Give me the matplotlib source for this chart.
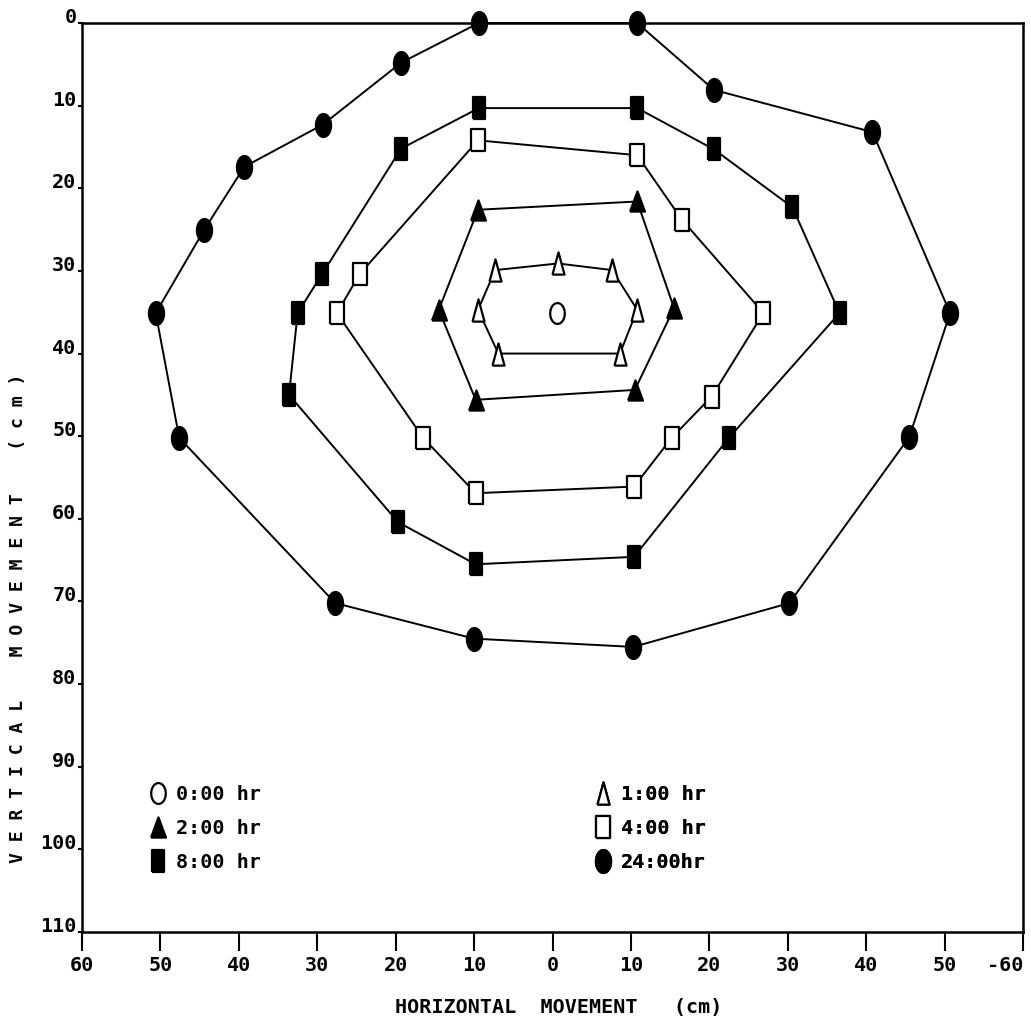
import numpy as np
import matplotlib

matplotlib.use("Agg")

import matplotlib.pyplot as plt
from matplotlib.lines import Line2D

plt.rcParams["font.family"] = ["DejaVu Sans Mono"]
plt.rcParams["font.weight"] = "bold"

# 各时刻的轮廓点 (水平位移 cm, 垂直位移 cm)
X_0H = [0.6]
Y_0H = [35.1]

X_1H = [-7.3, 0.7, 7.6, 10.8, 8.6, -6.9, -9.5]
Y_1H = [29.9, 29.1, 29.9, 34.7, 40.0, 40.0, 34.7]

X_2H = [-9.5, 10.8, 15.5, 10.5, -9.8, -14.5]
Y_2H = [22.6, 21.6, 34.5, 44.4, 45.6, 34.7]

X_4H = [-9.5, 10.8, 16.5, 26.9, 20.3, 15.2, 10.4, -9.8, -16.5, -27.5, -24.6]
Y_4H = [14.2, 16.0, 23.8, 35.1, 45.2, 50.2, 56.1, 56.9, 50.2, 35.1, 30.4]

X_8H = [-9.4, 10.8, 20.6, 30.6, 36.6, 22.5, 10.4, -9.8, -19.7, -33.6, -32.5, -29.4, -19.3]
Y_8H = [10.3, 10.3, 15.3, 22.3, 35.1, 50.2, 64.6, 65.5, 60.4, 45.0, 35.1, 30.4, 15.2]

X_24H = [-9.4, 10.8, 20.6, 40.8, 50.7, 45.5, 30.2, 10.3, -10.0, -27.7, -47.6, -50.6, -44.4, -39.3, -29.3, -19.3]
Y_24H = [0.0, 0.0, 8.1, 13.2, 35.1, 50.1, 70.2, 75.5, 74.5, 70.2, 50.2, 35.1, 25.0, 17.4, 12.3, 4.8]

LABELS = ["0:00 hr", "1:00 hr", "2:00 hr", "4:00 hr", "8:00 hr", "24:00hr"]
SERIES = [(X_0H, Y_0H), (X_1H, Y_1H), (X_2H, Y_2H), (X_4H, Y_4H), (X_8H, Y_8H), (X_24H, Y_24H)]

X_TICKS = [-60, -50, -40, -30, -20, -10, 0, 10, 20, 30, 40, 50, 60]
X_TICK_LABELS = ["60", "50", "40", "30", "20", "10", "0", "10", "20", "30", "40", "50", "-60"]
Y_TICKS = [0, 10, 20, 30, 40, 50, 60, 70, 80, 90, 100, 110]


def ellipse(half_width):
    t = np.linspace(0, 2 * np.pi, 48)
    return np.column_stack([half_width * np.cos(t), 0.5 * np.sin(t)])


def rect(half_width):
    return [(-half_width, -0.5), (half_width, -0.5), (half_width, 0.5), (-half_width, 0.5), (-half_width, -0.5)]


def tri(half_base):
    return [(-half_base, -0.5), (half_base, -0.5), (0, 0.5), (-half_base, -0.5)]


# 标记样式: 形状, 填充色, 尺寸
MARKERS = {
    "0:00 hr": dict(marker=ellipse(0.35), markerfacecolor="white", markersize=15),
    "1:00 hr": dict(marker=tri(0.27), markerfacecolor="white", markersize=16),
    "2:00 hr": dict(marker=tri(0.37), markerfacecolor="black", markersize=14.5),
    "4:00 hr": dict(marker=rect(0.3), markerfacecolor="white", markersize=16),
    "8:00 hr": dict(marker=rect(0.28), markerfacecolor="black", markersize=16.5),
    "24:00hr": dict(marker=ellipse(0.33), markerfacecolor="black", markersize=16.5),
}


def marker_kw(label):
    kw = dict(MARKERS[label])
    kw.update(markeredgecolor="black", markeredgewidth=1.6)
    return kw


W, H = 1031, 1028
fig = plt.figure(figsize=(W / 100, H / 100), dpi=100)
ax = fig.add_axes([82 / W, 1 - 932 / H, 941 / W, 909 / H])

for label, (xs, ys) in zip(LABELS, SERIES):
    xs = np.asarray(xs, dtype=float)
    ys = np.asarray(ys, dtype=float)
    if xs.size > 1:
        # 闭合轮廓
        ax.plot(np.append(xs, xs[0]), np.append(ys, ys[0]), color="black", linewidth=1.4, zorder=2, clip_on=False)
    ax.plot(xs, ys, linestyle="none", zorder=3, clip_on=False, **marker_kw(label))

ax.set_xlim(-60, 60)
ax.set_ylim(110, 0)
ax.set_xticks(X_TICKS)
ax.set_xticklabels(X_TICK_LABELS)
ax.set_yticks(Y_TICKS)
ax.set_yticklabels([str(v) for v in Y_TICKS])
for lbl in ax.get_yticklabels():
    lbl.set_verticalalignment("baseline")
# 最右端标签靠左放，免得出界
ax.get_xticklabels()[-1].set_horizontalalignment("right")

ax.tick_params(axis="x", direction="out", length=14, width=1.5, pad=3, labelsize=14.5)
ax.tick_params(axis="y", direction="out", length=3, width=1.5, pad=1, labelsize=14.5)
for spine in ax.spines.values():
    spine.set_linewidth(1.8)

fig.text(559 / W, 1 - 1007 / H, "HORIZONTAL  MOVEMENT   (cm)", ha="center", va="center", fontsize=14.5)
fig.text(18 / W, 1 - 618 / H, "V E R T I C A L    M O V E M E N T    ( c m )",
         rotation=90, ha="center", va="center", fontsize=13)


def add_legend_column(labels, x_anchor, y_anchor):
    handles = [Line2D([], [], linestyle="none", **marker_kw(lab)) for lab in labels]
    leg = ax.legend(handles, labels, loc="upper left", bbox_to_anchor=(x_anchor, y_anchor),
                    frameon=False, borderpad=0, borderaxespad=0, handlelength=1.0,
                    handletextpad=0.35, labelspacing=0.75,
                    prop=dict(size=14.5, weight="bold", family="DejaVu Sans Mono"))
    ax.add_artist(leg)


add_legend_column([LABELS[0], LABELS[2], LABELS[4]], 0.0705, 0.162)
add_legend_column([LABELS[1], LABELS[3], LABELS[5]], 0.5434, 0.162)

fig.savefig("out.png", dpi=100)
